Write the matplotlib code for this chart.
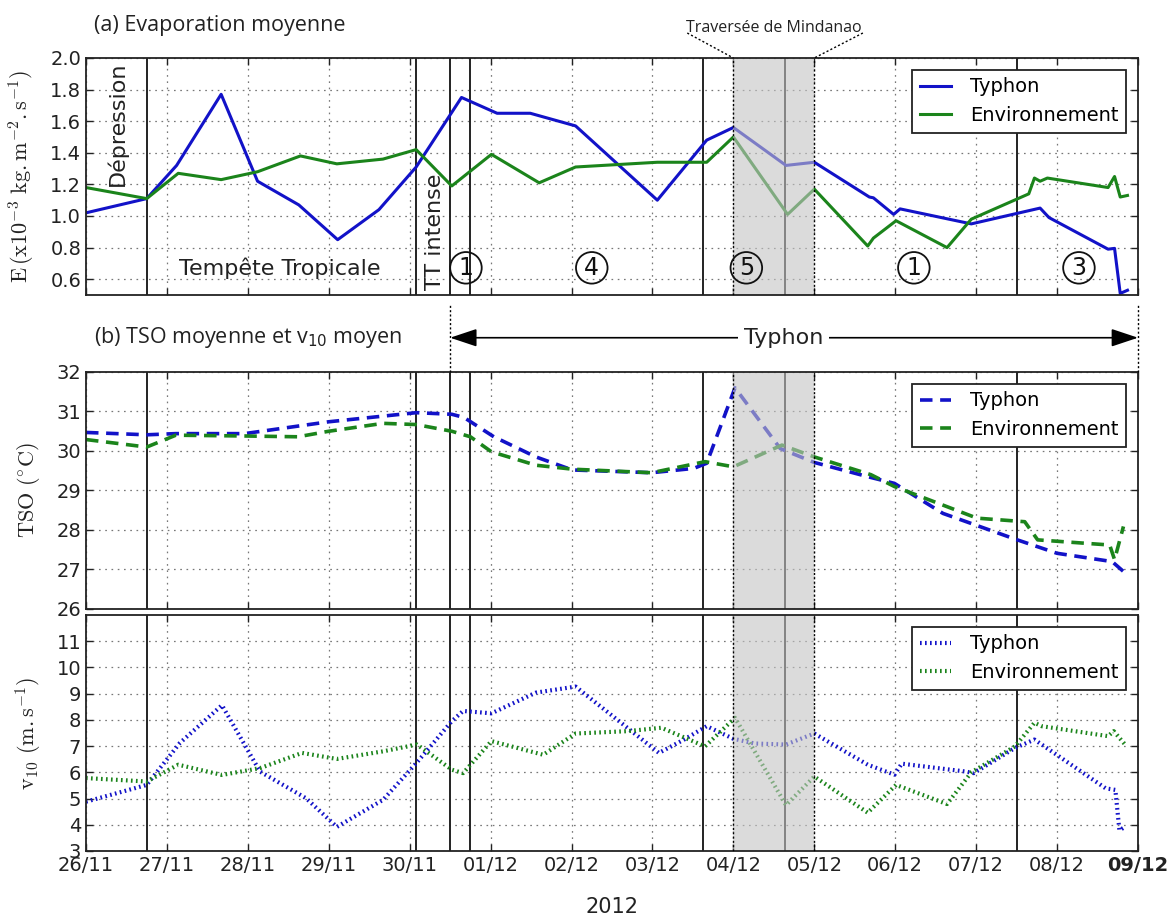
import matplotlib
matplotlib.use('Agg')
import matplotlib.pyplot as plt
from matplotlib import transforms
from matplotlib.lines import Line2D

plt.rcParams['mathtext.fontset'] = 'cm'
plt.rcParams['font.family'] = ['DejaVu Sans']
plt.rcParams['lines.scale_dashes'] = False

# ---------------- data (x = days since 26/11/2012 00:00) ----------------
date_labels = ['26/11', '27/11', '28/11', '29/11', '30/11', '01/12', '02/12',
               '03/12', '04/12', '05/12', '06/12', '07/12', '08/12', '09/12']

# (a) Evaporation
t_E_typ = [0.0, 0.75, 1.12, 1.67, 2.12, 2.63, 3.11, 3.62, 4.08, 4.64, 5.08, 5.49, 6.05,
           7.06, 7.67, 8.0, 8.65, 9.0, 9.68, 9.73, 9.98, 10.06, 10.94, 11.79, 11.9,
           12.63, 12.71, 12.78, 12.87]
E_typ = [1.02, 1.11, 1.32, 1.77, 1.22, 1.07, 0.85, 1.04, 1.31, 1.75, 1.65, 1.65, 1.57,
         1.10, 1.48, 1.56, 1.32, 1.34, 1.12, 1.115, 1.01, 1.045, 0.95, 1.05, 0.99,
         0.79, 0.795, 0.51, 0.53]
t_E_env = [0.0, 0.75, 1.14, 1.67, 2.12, 2.65, 3.10, 3.67, 4.08, 4.52, 5.01, 5.60, 6.05,
           7.06, 7.67, 8.0, 8.67, 9.0, 9.66, 9.73, 10.01, 10.64, 10.94, 11.65, 11.72,
           11.79, 11.88, 12.63, 12.71, 12.78, 12.87]
E_env = [1.18, 1.11, 1.27, 1.23, 1.28, 1.38, 1.33, 1.36, 1.42, 1.19, 1.39, 1.21, 1.31,
         1.34, 1.34, 1.50, 1.01, 1.17, 0.81, 0.86, 0.97, 0.80, 0.98, 1.14, 1.24,
         1.22, 1.24, 1.18, 1.25, 1.12, 1.13]

# (b) TSO
t_T_typ = [0.0, 0.75, 1.11, 1.96, 3.0, 4.08, 4.52, 4.67, 5.04, 5.56, 6.01, 6.99, 7.51,
           7.67, 8.02, 8.58, 9.0, 9.66, 9.99, 10.59, 11.48, 12.0, 12.68, 12.82]
T_typ = [30.47, 30.41, 30.44, 30.44, 30.74, 30.97, 30.93, 30.85, 30.36, 29.85, 29.52,
         29.45, 29.56, 29.69, 31.6, 30.06, 29.71, 29.35, 29.18, 28.42, 27.77, 27.41,
         27.2, 26.95]
t_T_env = [0.0, 0.75, 1.11, 1.96, 2.62, 3.0, 3.67, 4.08, 4.52, 4.75, 5.01, 5.56, 6.01,
           6.99, 7.65, 8.0, 8.6, 9.0, 9.7, 9.99, 10.59, 11.01, 11.6, 11.76, 12.65, 12.71,
           12.82]
T_env = [30.29, 30.1, 30.4, 30.38, 30.36, 30.5, 30.7, 30.67, 30.5, 30.36, 29.98, 29.64,
         29.54, 29.45, 29.73, 29.6, 30.15, 29.85, 29.4, 29.1, 28.63, 28.3, 28.21, 27.75,
         27.62, 27.25, 28.09]

# (c) v10
t_V_typ = [0.0, 0.75, 1.16, 1.68, 2.15, 2.72, 3.10, 3.67, 4.09, 4.52, 4.66, 5.01, 5.56,
           6.05, 7.08, 7.39, 7.67, 8.0, 8.26, 8.65, 9.0, 9.66, 9.99, 10.08, 10.87, 10.97,
           11.48, 11.72, 12.60, 12.72, 12.77, 12.84]
V_typ = [4.88, 5.52, 7.12, 8.56, 6.03, 5.01, 3.92, 4.95, 6.38, 7.95, 8.34, 8.25, 9.04,
         9.27, 6.74, 7.25, 7.76, 7.28, 7.1, 7.06, 7.48, 6.29, 5.91, 6.33, 6.03, 5.97,
         6.93, 7.25, 5.39, 5.33, 3.79, 3.92]
t_V_env = [0.0, 0.75, 1.14, 1.68, 2.15, 2.67, 3.10, 3.67, 4.09, 4.52, 4.66, 5.01, 5.65,
           6.05, 6.69, 7.11, 7.65, 8.02, 8.65, 9.0, 9.66, 10.01, 10.64, 10.94, 11.48,
           11.72, 11.81, 12.63, 12.70, 12.84]
V_env = [5.78, 5.65, 6.29, 5.9, 6.16, 6.74, 6.51, 6.8, 7.06, 6.1, 5.97, 7.19, 6.67,
         7.48, 7.57, 7.7, 6.99, 8.08, 4.75, 5.84, 4.46, 5.52, 4.79, 6.0, 6.99,
         7.89, 7.76, 7.38, 7.57, 7.06]

event_lines = [0.75, 4.08, 4.5, 4.75, 7.625, 8.64, 11.5]
mindanao = (8.0, 9.0)
circled = [('1', 4.695), ('4', 6.25), ('5', 8.16), ('1', 10.23), ('3', 12.27)]

BLUE = '#1212c8'
GREEN = '#1b841b'
DOT = (0, (1.5, 1.6))

fig = plt.figure(figsize=(11.74, 9.22), dpi=100)
L, W = 0.07325, 0.8961
ax_a = fig.add_axes([L, 0.68004, W, 0.2571])
ax_b = fig.add_axes([L, 0.33948, W, 0.25705])
ax_c = fig.add_axes([L, 0.07701, W, 0.25596])

for ax in (ax_a, ax_b, ax_c):
    ax.set_xlim(0, 13)
    ax.set_xticks(range(len(date_labels)))
    ax.grid(True, color='#777777', lw=0.9, linestyle=(0, (1.2, 3.3)))
    ax.tick_params(direction='in', top=True, right=True, length=5, width=1,
                   labelsize=14, colors='#222222')
    for s in ax.spines.values():
        s.set_linewidth(1.3)
        s.set_color('#222222')
    for x in event_lines:
        ax.axvline(x, color='#222222', lw=1.4, zorder=1.8)
    ax.axvspan(mindanao[0], mindanao[1], color='#c4c4c4', alpha=0.6, lw=0, zorder=2.3)
    for x in mindanao:
        ax.axvline(x, color='k', lw=1.0, ls=DOT, zorder=3)

ax_a.tick_params(labelbottom=False)
ax_b.tick_params(labelbottom=False)

# panel a
ax_a.plot(t_E_typ, E_typ, color=BLUE, lw=2.2, label='Typhon')
ax_a.plot(t_E_env, E_env, color=GREEN, lw=2.2, label='Environnement')
ax_a.set_ylim(0.5, 2.0)
ax_a.set_yticks([0.6, 0.8, 1.0, 1.2, 1.4, 1.6, 1.8, 2.0])
ax_a.set_ylabel(r'$\mathrm{E\,(x10^{-3}\ kg{.}m^{-2}{.}s^{-1})}$', fontsize=16,
                color='#222222')
ax_a.yaxis.set_label_coords(-0.047, 0.5)

# panel b
ax_b.plot(t_T_typ, T_typ, color=BLUE, lw=2.6, ls=(0, (9, 5.5)), label='Typhon')
ax_b.plot(t_T_env, T_env, color=GREEN, lw=2.6, ls=(0, (9, 5.5)), label='Environnement')
ax_b.set_ylim(26, 32)
ax_b.set_yticks(range(26, 33))
ax_b.set_ylabel(r'$\mathrm{TSO\ (^{\circ}C)}$', fontsize=16, color='#222222')
ax_b.yaxis.set_label_coords(-0.042, 0.5)

# panel c
ax_c.plot(t_V_typ, V_typ, color=BLUE, lw=3.0, ls=(0, (1.2, 2.4)), label='Typhon')
ax_c.plot(t_V_env, V_env, color=GREEN, lw=3.0, ls=(0, (1.2, 2.4)), label='Environnement')
ax_c.set_ylim(3, 12)
ax_c.set_yticks(range(3, 12))
ax_c.set_ylabel(r'$\mathrm{v_{10}\ (m{.}s^{-1})}$', fontsize=16, color='#222222')
ax_c.yaxis.set_label_coords(-0.040, 0.5)
ax_c.set_xticklabels(date_labels)
ax_c.get_xticklabels()[-1].set_fontweight('bold')
ax_c.set_xlabel('2012', fontsize=15, labelpad=16, color='#222222')

for ax in (ax_a, ax_b, ax_c):
    leg = ax.legend(loc='upper right', fontsize=14, handlelength=1.6, handletextpad=1.0,
                    fancybox=False, framealpha=1, edgecolor='#222222', borderaxespad=0.6)
    leg.get_frame().set_linewidth(1.3)

# annotations panel a
ax_a.text(0.379, 1.586, 'Dépression', rotation=90, ha='center', va='center', fontsize=16,
          color='#222222')
ax_a.text(2.39, 0.627, 'Tempête Tropicale', ha='center', va='baseline', fontsize=16,
          color='#222222')
ax_a.text(4.31, 0.90, 'TT intense', rotation=90, ha='center', va='center', fontsize=16,
          color='#222222')
for lab, x in circled:
    ax_a.text(x, 0.672, lab, ha='center', va='center', fontsize=17, color='#111111',
              zorder=6, bbox=dict(boxstyle='circle,pad=0.16', fc='none', ec='#111111', lw=1.3))

fig.text(0.0799, 0.9667, '(a) Evaporation moyenne', fontsize=15.5, family='Open Sans',
         va='baseline', color='#222222')
fig.text(0.0799, 0.628, r'(b) TSO moyenne et v$_{10}$ moyen', fontsize=15.5,
         family='Open Sans', va='baseline', color='#222222', math_fontfamily='dejavusans')

blend_a = transforms.blended_transform_factory(ax_a.transData, fig.transFigure)
ax_a.text(8.5, 0.9656, 'Traversée de Mindanao', transform=blend_a, ha='center',
          va='baseline', fontsize=11.5, family='Open Sans', color='#222222')
fig.add_artist(Line2D([7.43, 8.0], [0.9642, 0.9371], transform=blend_a, color='k',
                      lw=1.0, ls=DOT))
fig.add_artist(Line2D([9.6, 9.0], [0.9642, 0.9371], transform=blend_a, color='k',
                      lw=1.0, ls=DOT))

# typhon arrow above panel b
blend_b = transforms.blended_transform_factory(ax_b.transData, fig.transFigure)
for x in (4.5, 13.0):
    fig.add_artist(Line2D([x, x], [0.5965, 0.6692], transform=blend_b, color='k',
                          lw=1.0, ls=DOT))
ax_b.annotate('', xy=(4.5, 0.6337), xycoords=blend_b, xytext=(13.0, 0.6337),
              textcoords=blend_b, annotation_clip=False,
              arrowprops=dict(arrowstyle='<|-|>,head_length=1.65,head_width=0.55',
                              mutation_scale=10, color='k', lw=1.2, shrinkA=0, shrinkB=0))
ax_b.text(8.62, 0.6337, 'Typhon', transform=blend_b, ha='center', va='center',
          fontsize=16, color='#222222', zorder=6,
          bbox=dict(fc='white', ec='none', pad=4))

fig.savefig('out.png', dpi=100)
